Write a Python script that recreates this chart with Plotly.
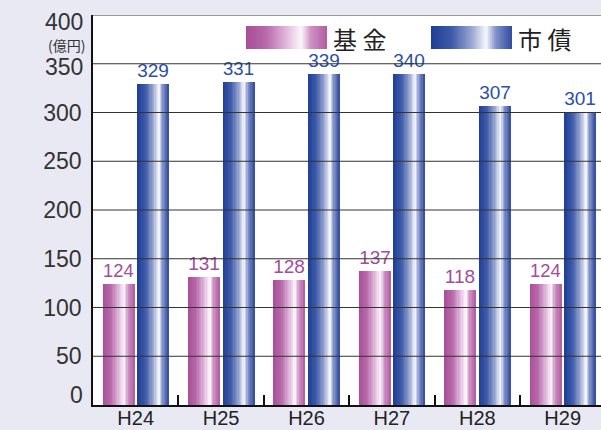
import plotly.graph_objects as go

categories = ["H24", "H25", "H26", "H27", "H28", "H29"]
kikin = [124, 131, 128, 137, 118, 124]
shisai = [329, 331, 339, 340, 307, 301]
y_ticks = [0, 50, 100, 150, 200, 250, 300, 350, 400]
series_names = ["基 金", "市 債"]

PL, PT, PB, W, H = 93, 15, 25, 601, 430
PW = W - PL
PH = H - PT - PB

def lerp_stops(stops, t):
    for (p0, c0), (p1, c1) in zip(stops, stops[1:]):
        if p0 <= t <= p1:
            f = (t - p0) / (p1 - p0) if p1 > p0 else 0
            c = [round(a + (b - a) * f) for a, b in zip(c0, c1)]
            return "rgb(%d,%d,%d)" % tuple(c)
    c = stops[-1][1]
    return "rgb(%d,%d,%d)" % tuple(c)

pink_stops = [(0.0, (168, 78, 152)), (0.25, (184, 105, 170)), (0.5, (225, 185, 220)),
              (0.68, (253, 248, 253)), (0.8, (205, 145, 195)), (1.0, (178, 92, 162))]
blue_stops = [(0.0, (30, 62, 150)), (0.25, (62, 90, 168)), (0.5, (150, 165, 210)),
              (0.68, (248, 248, 253)), (0.8, (130, 145, 200)), (1.0, (48, 75, 160))]

bw = 0.372
offs = [-0.387, 0.018]
N = 24
fig = go.Figure()
for vals, off, stops, tcol in [(kikin, offs[0], pink_stops, "#a24c9a"),
                               (shisai, offs[1], blue_stops, "#2a4fa5")]:
    fig.add_trace(go.Bar(x=categories, y=vals, width=bw, offset=off,
                         marker=dict(color=lerp_stops(stops, 0.5), line=dict(width=0)),
                         text=[str(v) for v in vals], textposition="outside",
                         textfont=dict(size=19, color=tcol, family="Liberation Sans"),
                         cliponaxis=False, showlegend=False, hoverinfo="skip"))
    sw = bw / N
    for i in range(N):
        wi = sw * 2.0 if i < N - 1 else sw
        fig.add_trace(go.Bar(x=categories, y=vals, width=wi, offset=off + i * sw,
                             marker=dict(color=lerp_stops(stops, (i + 0.5) / N), line=dict(width=0)),
                             showlegend=False, hoverinfo="skip"))

def px_x(px):
    return (px - PL) / PW

def px_y(py):
    return (H - PB - py) / PH

shapes = []
for v in y_ticks[1:]:
    shapes.append(dict(type="line", xref="paper", yref="y", x0=0, x1=1, y0=v, y1=v,
                       line=dict(color="#333333", width=1), layer="above"))

# legend swatches
for (x0, x1), stops in [((246, 327), pink_stops), ((431, 512), blue_stops)]:
    M = 40
    step = (x1 - x0) / M
    for i in range(M):
        shapes.append(dict(type="rect", xref="paper", yref="paper",
                           x0=px_x(x0 + i * step), x1=px_x(min(x1, x0 + (i + 2) * step)),
                           y0=px_y(49), y1=px_y(26), line=dict(width=0),
                           fillcolor=lerp_stops(stops, (i + 0.5) / M), layer="above"))

ylab_font = dict(size=23, color="#333333", family="Liberation Sans")
annotations = [
    dict(text="(億円)", xref="paper", yref="paper", x=px_x(87), y=px_y(45),
         xanchor="right", yanchor="middle", showarrow=False,
         font=dict(size=14, color="#333333", family="Noto Sans CJK JP")),
    dict(text=series_names[0], xref="paper", yref="paper", x=px_x(331), y=px_y(38),
         xanchor="left", yanchor="middle", showarrow=False,
         font=dict(size=24, color="#222222", family="Noto Sans CJK JP")),
    dict(text=series_names[1], xref="paper", yref="paper", x=px_x(516), y=px_y(38),
         xanchor="left", yanchor="middle", showarrow=False,
         font=dict(size=24, color="#222222", family="Noto Sans CJK JP")),
]
# tick labels whose placement is nudged off their gridline in the reference
nudged = {0: 10, len(y_ticks) - 2: -3, len(y_ticks) - 1: -7}
for idx, shift in nudged.items():
    annotations.append(dict(text=str(y_ticks[idx]), xref="paper", yref="y", x=0, y=y_ticks[idx],
                            xshift=-8, yshift=shift, xanchor="right", yanchor="middle",
                            showarrow=False, font=ylab_font))

ytext = ["" if i in nudged else str(v) for i, v in enumerate(y_ticks)]

fig.update_layout(
    width=W, height=H, barmode="overlay", bargap=0,
    margin=dict(l=PL, r=0, t=PT, b=PB, pad=0, autoexpand=False),
    paper_bgcolor="#e9e9f4", plot_bgcolor="#ffffff",
    shapes=shapes, annotations=annotations,
    xaxis=dict(type="category", range=[-0.5, -0.5 + PW / 85.4], automargin=False,
               showgrid=False, showline=True, linecolor="#111111", linewidth=1.5,
               ticks="inside", tickson="boundaries", ticklen=10, tickwidth=1.5,
               tickcolor="#111111", ticklabelstandoff=-6,
               tickfont=dict(size=20, color="#222222", family="Liberation Sans")),
    yaxis=dict(range=[0, 400], tickvals=y_ticks, ticktext=ytext, showgrid=False, zeroline=False,
               showline=True, linecolor="#111111", linewidth=1.5, ticks="",
               ticklabelstandoff=5, automargin=False, tickfont=ylab_font),
    showlegend=False,
)

fig.write_html("out.html")
